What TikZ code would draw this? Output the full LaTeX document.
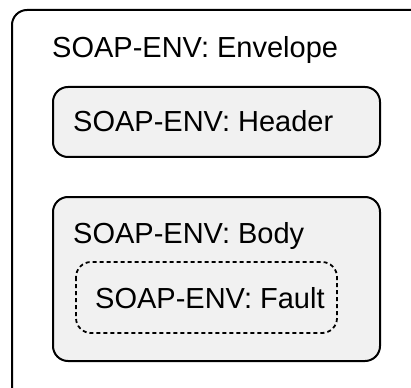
\documentclass[tikz,border=0pt]{standalone}
\usepackage{fontspec}
\setmainfont{Liberation Sans}
\begin{document}
\begin{tikzpicture}[x=1pt,y=1pt,
  frame/.style={draw=black, line width=2pt, rounded corners=15pt},
  part/.style={frame, fill=partfill},
  label/.style={anchor=base west, inner sep=0pt, font=\fontsize{29}{33}\selectfont}]
  \definecolor{partfill}{HTML}{F1F1F1}
  \useasboundingbox (0,0) rectangle (411,-387);
  \clip (0,0) rectangle (411,-387);
  % outer envelope, running off the right and bottom edges
  \draw[frame, fill=white] (12,-10) rectangle (440,-410);
  \node[label] (envtext) at (52,-57.5) {SOAP-ENV: Envelope};
  % header block
  \draw[part] (53,-87) rectangle (380,-157);
  \node[label] (hdrtext) at (73,-131.5) {SOAP-ENV: Header};
  % body block with the fault element inside
  \draw[part] (53,-197) rectangle (380,-361);
  \node[label] (bodytext) at (73,-243) {SOAP-ENV: Body};
  \draw[frame, line width=1.8pt, dash pattern=on 4pt off 3pt] (76,-262) rectangle (337,-333);
  \node[label] (faulttext) at (95,-308) {SOAP-ENV: Fault};
\end{tikzpicture}
\end{document}
